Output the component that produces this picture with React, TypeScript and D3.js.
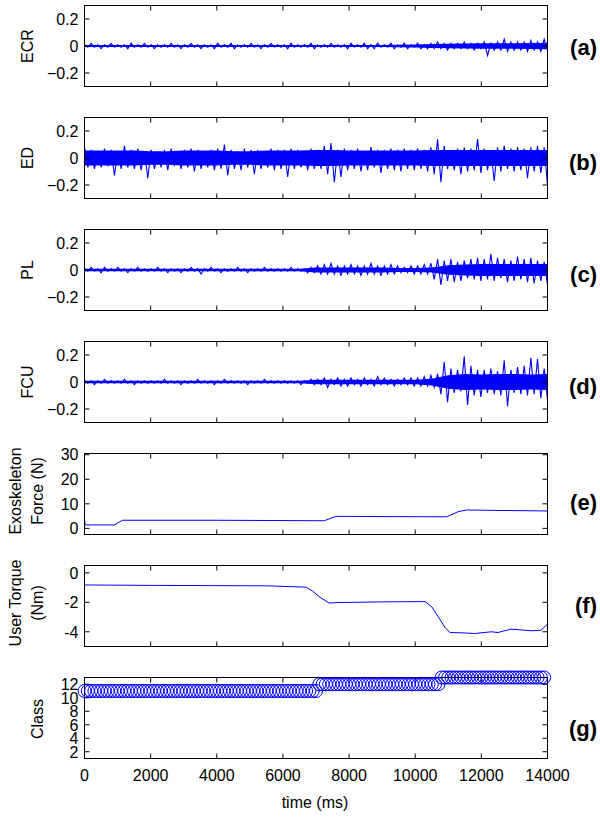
import React from "react";
import * as d3 from "d3";

// ---------- data ----------
const timeTicks = [0, 2000, 4000, 6000, 8000, 10000, 12000, 14000];
const emgTicks = [-0.2, 0, 0.2];
const forceTicks = [0, 10, 20, 30];
const torqueTicks = [-4, -2, 0];
const classTicks = [2, 4, 6, 8, 10, 12];
const panelLetters = ["(a)", "(b)", "(c)", "(d)", "(e)", "(f)", "(g)"];

// EMG peak/trough sequences (hundredths), ~100 ms apart, 0..14000 ms
const ecrPeaks = [
  1, -1, 2, -1, 1, -2, 1, -1, 2, -1, 1, -1, 1, -2, 2, -1, 1, -1, 2, -1,
  1, -2, 1, -1, 1, -1, 2, -1, 1, -2, 1, -1, 2, -1, 1, -2, 1, -1, 1, -2,
  2, -1, 1, -1, 2, -2, 1, -1, 1, -1, 2, -1, 1, -2, 1, -1, 2, -1, 1, -1,
  1, -2, 2, -1, 1, -1, 1, -1, 2, -2, 1, -1, 1, -1, 2, -1, 1, -1, 1, -2,
  2, -1, 1, -1, 2, -2, 1, -2, 2, -1, 1, -1, 2, -2, 1, -1, 2, -2, 1, -1,
  2, -2, 1, -2, 2, -2, 3, -2, 2, -3, 2, -2, 2, -2, 3, -2, 2, -3, 2, -2,
  3, -7, 2, -3, 3, -3, 5, -4, 3, -3, 3, -3, 3, -4, 4, -3, 3, -4, 5, -3,
];
const ecrCore = [
  0.8, 0.8, 0.8, 0.8, 0.8, 0.8, 0.8, 0.8, 0.8, 0.8, 0.8, 0.8, 0.8, 0.8, 0.8,
  0.8, 0.8, 0.8, 0.8, 1, 1.2, 1.4, 1.6, 1.8, 2, 2, 2, 2.2, 2.4,
];

const edPeaks = [
  8, -7, 6, -8, 5, -7, 7, -6, 6, -13, 5, -8, 9, -7, 6, -8, 7, -9, 5, -15,
  6, -8, 5, -7, 6, -9, 7, -6, 5, -8, 6, -7, 7, -10, 6, -8, 5, -7, 6, -9,
  7, -8, 10, -13, 6, -8, 5, -9, 7, -7, 6, -12, 6, -8, 5, -7, 7, -9, 6, -8,
  6, -14, 7, -8, 6, -7, 5, -9, 7, -8, 6, -8, 9, -12, 11, -18, 6, -14, 7, -9,
  6, -8, 7, -10, 5, -9, 8, -7, 6, -11, 6, -8, 7, -9, 6, -10, 7, -8, 6, -9,
  7, -8, 6, -10, 8, -12, 14, -18, 9, -8, 6, -9, 7, -12, 8, -10, 7, -9, 14, -11,
  7, -9, 6, -17, 8, -10, 9, -8, 7, -10, 8, -9, 7, -15, 8, -10, 9, -11, 8, -20,
];
const edCore = [
  5.5, 5.5, 5.5, 5.5, 5, 5, 5.5, 5.5, 5.5, 5, 5, 5.5, 5.5, 5.5, 6,
  6, 5.5, 5.5, 5.5, 5.5, 5.5, 6, 6, 6, 6, 6, 6, 6, 6,
];

const plPeaks = [
  1, -1, 2, -1, 1, -2, 2, -1, 1, -1, 2, -1, 1, -2, 1, -1, 2, -1, 1, -1,
  1, -1, 2, -1, 1, -2, 1, -1, 1, -2, 1, -1, 2, -1, 1, -3, 1, -1, 2, -1,
  1, -2, 1, -1, 1, -1, 2, -1, 1, -2, 1, -1, 1, -1, 2, -1, 1, -1, 1, -1,
  1, -1, 2, -1, 1, -1, 1, -2, 2, -2, 3, -3, 4, -3, 5, -3, 3, -4, 3, -3,
  4, -3, 3, -4, 3, -3, 5, -3, 3, -4, 3, -3, 4, -3, 3, -2, 2, -2, 3, -3,
  3, -3, 4, -3, 5, -7, 8, -11, 7, -8, 8, -9, 6, -8, 7, -6, 8, -7, 9, -8,
  8, -7, 12, -8, 9, -6, 8, -9, 7, -8, 10, -7, 8, -9, 9, -10, 7, -8, 6, -11,
];
const plCore = [
  1, 1, 1, 1, 1, 1, 1, 1, 1, 1, 1, 1, 1, 1, 1.8,
  1.8, 1.8, 1.8, 1.8, 1.4, 1.4, 1.8, 3.5, 4, 4.5, 4.5, 4.5, 4.5, 4.5,
];

const fcuPeaks = [
  1, -1, 1, -2, 1, -1, 2, -1, 1, -1, 1, -1, 2, -1, 1, -2, 1, -1, 1, -1,
  1, -1, 1, -1, 2, -1, 1, -1, 1, -2, 1, -1, 1, -1, 2, -1, 1, -1, 1, -2,
  1, -1, 2, -1, 1, -1, 1, -1, 1, -2, 1, -1, 1, -1, 2, -1, 1, -1, 1, -1,
  1, -1, 1, -1, 1, -2, 1, -1, 2, -2, 2, -2, 3, -4, 2, -2, 3, -3, 2, -3,
  3, -2, 2, -3, 3, -2, 2, -3, 4, -2, 3, -2, 2, -3, 2, -2, 3, -2, 3, -3,
  3, -3, 4, -3, 5, -4, 6, -9, 15, -15, 10, -8, 9, -7, 19, -17, 12, -10, 9, -11,
  9, -8, 10, -9, 8, -10, 16, -18, 9, -8, 11, -9, 12, -10, 18, -9, 17, -12, 10, -13,
];
const fcuCore = [
  1, 1, 1, 1, 1, 1, 1, 1, 1, 1, 1, 1, 1, 1, 1.6,
  1.6, 1.6, 1.6, 1.6, 1.6, 1.6, 2.5, 5, 6, 5.5, 6, 6, 5.5, 6,
];

const forceTime = [0, 20, 900, 1150, 4000, 7250, 7600, 9000, 10950, 11300, 11550, 12500, 14000];
const forceValue = [4.0, 1.4, 1.4, 3.3, 3.3, 3.1, 4.9, 4.8, 4.7, 6.8, 7.5, 7.3, 7.1];

const torqueTime = [0, 2000, 5500, 6700, 6900, 7150, 7400, 7600, 9000, 10300, 10500, 10700, 10900, 11050, 11500, 11800, 12300, 12500, 12900, 13500, 13800, 14000];
const torqueValue = [-0.82, -0.85, -0.88, -0.97, -1.25, -1.7, -2.05, -2.02, -1.97, -1.95, -2.3, -3.0, -3.7, -4.05, -4.08, -4.12, -4.0, -4.05, -3.82, -3.93, -3.9, -3.48];

const classRunStart = [0, 7100, 10800];
const classRunEnd = [7000, 10700, 13900];
const classRunValue = [11, 12, 13];
const classStep = 100;

// ---------- layout ----------
const W = 600;
const H = 823;
const X0 = 84.5;
const X1 = 547.5;
const PH = 81;
const tops = [5.5, 117.5, 229.5, 341.5, 453.5, 565.5, 677.5];
const letterY = [47, 162, 274, 386, 502, 605, 728];
const BLUE = "#0000ff";
const FONT = "'Liberation Sans', Arial, Helvetica, sans-serif";
const TICK = 5;

const x = d3.scaleLinear().domain([0, 14000]).range([X0, X1]);

function Frame({ top, y, yTicks, fmt, showX }: any) {
  return (
    <g>
      <rect x={X0} y={top} width={X1 - X0} height={PH} fill="none" stroke="#000" strokeWidth={1} />
      {timeTicks.map((t) => (
        <g key={"x" + t}>
          <line x1={x(t)} x2={x(t)} y1={top + PH} y2={top + PH - TICK} stroke="#000" />
          <line x1={x(t)} x2={x(t)} y1={top} y2={top + TICK} stroke="#000" />
          {showX && (
            <text x={x(t)} y={top + PH + 22} textAnchor="middle" fontSize={16} fontFamily={FONT}>
              {t}
            </text>
          )}
        </g>
      ))}
      {yTicks.map((v: number) => (
        <g key={"y" + v}>
          <line x1={X0} x2={X0 + TICK} y1={y(v)} y2={y(v)} stroke="#000" />
          <line x1={X1} x2={X1 - TICK} y1={y(v)} y2={y(v)} stroke="#000" />
          <text x={X0 - 6} y={y(v)} dy="0.36em" textAnchor="end" fontSize={16} fontFamily={FONT}>
            {fmt(v)}
          </text>
        </g>
      ))}
    </g>
  );
}

function YLabel({ lines, cy, xs }: { lines: string[]; cy: number; xs: number[] }) {
  return (
    <g>
      {lines.map((l, i) => (
        <text
          key={i}
          transform={`translate(${xs[i]},${cy}) rotate(-90)`}
          textAnchor="middle"
          dy="0.36em"
          fontSize={16}
          fontFamily={FONT}
        >
          {l}
        </text>
      ))}
    </g>
  );
}

function EmgPanel({ idx, peaks, core, label }: any) {
  const top = tops[idx];
  const y = d3.scaleLinear().domain([-0.3, 0.3]).range([top + PH, top]);
  const dt = 14000 / (peaks.length - 1);
  const cdt = 14000 / (core.length - 1);
  const line = d3
    .line<number>()
    .x((_, i) => x(i * dt))
    .y((d) => y(d * 0.01));
  const area = d3
    .area<number>()
    .x((_, i) => x(i * cdt))
    .y0((d) => y(-d * 0.01))
    .y1((d) => y(d * 0.01));
  const fmt = (v: number) => (v === 0 ? "0" : d3.format(".1f")(v));
  return (
    <g>
      <path d={area(core) || ""} fill={BLUE} />
      <path d={line(peaks) || ""} fill="none" stroke={BLUE} strokeWidth={1.1} />
      <Frame top={top} y={y} yTicks={emgTicks} fmt={fmt} />
      <YLabel lines={[label]} cy={top + PH / 2} xs={[27]} />
    </g>
  );
}

export default function App() {
  const yF = d3.scaleLinear().domain([-2.5, 30.5]).range([tops[4] + PH, tops[4]]);
  const yT = d3.scaleLinear().domain([-5, 0.5]).range([tops[5] + PH, tops[5]]);
  const yC = d3.scaleLinear().domain([1, 13]).range([tops[6] + PH, tops[6]]);

  const forceLine = d3
    .line<number>()
    .x((_, i) => x(forceTime[i]))
    .y((d) => yF(d));
  const torqueLine = d3
    .line<number>()
    .x((_, i) => x(torqueTime[i]))
    .y((d) => yT(d));

  const classPoints: { t: number; c: number }[] = [];
  classRunStart.forEach((s, k) => {
    d3.range(s, classRunEnd[k] + 1, classStep).forEach((t) => classPoints.push({ t, c: classRunValue[k] }));
  });

  return (
    <div style={{ position: "absolute", left: 0, top: 0 }}>
      <svg width={W} height={H} style={{ display: "block", background: "#fff" }}>
        <rect width={W} height={H} fill="#fff" />
        <EmgPanel idx={0} peaks={ecrPeaks} core={ecrCore} label="ECR" />
        <EmgPanel idx={1} peaks={edPeaks} core={edCore} label="ED" />
        <EmgPanel idx={2} peaks={plPeaks} core={plCore} label="PL" />
        <EmgPanel idx={3} peaks={fcuPeaks} core={fcuCore} label="FCU" />

        {/* Exoskeleton force */}
        <path d={forceLine(forceValue) || ""} fill="none" stroke={BLUE} strokeWidth={1} />
        <Frame top={tops[4]} y={yF} yTicks={forceTicks} fmt={(v: number) => String(v)} />
        <YLabel lines={["Exoskeleton", "Force (N)"]} cy={491} xs={[15, 37]} />

        {/* User torque */}
        <path d={torqueLine(torqueValue) || ""} fill="none" stroke={BLUE} strokeWidth={1} />
        <Frame top={tops[5]} y={yT} yTicks={torqueTicks} fmt={(v: number) => String(v)} />
        <YLabel lines={["User Torque", "(Nm)"]} cy={603} xs={[15, 37]} />

        {/* Class */}
        <Frame top={tops[6]} y={yC} yTicks={classTicks} fmt={(v: number) => String(v)} showX />
        {classPoints.map((p, i) => (
          <circle key={i} cx={x(p.t)} cy={yC(p.c)} r={6.5} fill="none" stroke={BLUE} strokeWidth={1} />
        ))}
        <YLabel lines={["Class"]} cy={719} xs={[37]} />

        <text x={315} y={808} textAnchor="middle" fontSize={16} fontFamily={FONT}>
          time (ms)
        </text>

        {panelLetters.map((l, i) => (
          <text key={l} x={597} y={letterY[i]} dy="0.36em" textAnchor="end" fontSize={22} fontWeight="bold" fontFamily={FONT}>
            {l}
          </text>
        ))}
      </svg>
    </div>
  );
}
